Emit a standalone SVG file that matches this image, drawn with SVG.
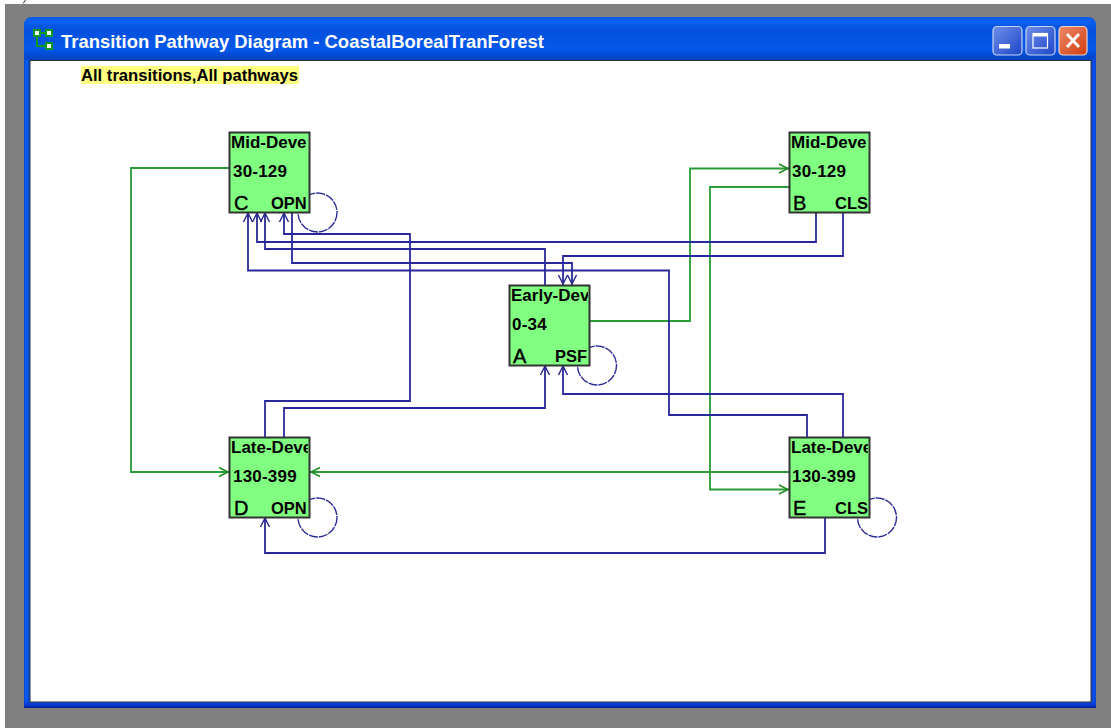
<svg xmlns="http://www.w3.org/2000/svg" width="1111" height="728" viewBox="0 0 1111 728">
<style>
.t{font-family:"Liberation Sans",Arial,sans-serif;font-weight:bold;fill:#000}
.n{font-size:17px}
.m{font-size:17px;letter-spacing:.2px}
.b{font-size:16.500px}
.l{font-size:20px;font-weight:normal;stroke:#000;stroke-width:.4}
.box{fill:#80ff80;stroke:#333;stroke-width:2}
.nv,.gr{fill:none;stroke-width:1.800}
.nv{stroke:#28289a}
.gr{stroke:#289a38}
.lp{fill:none;stroke:#2b2b98;stroke-width:1.400;stroke-dasharray:9 1}
.ha,.hg{fill:none;stroke-width:1.400}
.ha{stroke:#25258f}
.hg{stroke:#1d8a1d}
</style>
<defs>
<linearGradient id="tb" x1="0" y1="0" x2="0" y2="1">
<stop offset="0" stop-color="#0a5ce8"/><stop offset=".12" stop-color="#0a60f0"/><stop offset=".3" stop-color="#0550de"/><stop offset=".75" stop-color="#0558ea"/><stop offset="1" stop-color="#0340c0"/>
</linearGradient>
<linearGradient id="fb" x1="0" y1="0" x2="0" y2="1"><stop offset="0" stop-color="#0a48e0"/><stop offset=".5" stop-color="#0638d0"/><stop offset="1" stop-color="#081c88"/></linearGradient>
<linearGradient id="bl" x1="0" y1="0" x2="1" y2="1"><stop offset="0" stop-color="#6f8fe8"/><stop offset="1" stop-color="#1c45c8"/></linearGradient>
<linearGradient id="rd" x1="0" y1="0" x2="1" y2="1"><stop offset="0" stop-color="#ec8a68"/><stop offset="1" stop-color="#d23c10"/></linearGradient>
<clipPath id="cC"><rect x="230" y="133" width="78.500" height="78"/></clipPath>
<clipPath id="cB"><rect x="790" y="133" width="78" height="78"/></clipPath>
<clipPath id="cA"><rect x="510" y="286" width="78" height="78"/></clipPath>
<clipPath id="cD"><rect x="230" y="438" width="78" height="78"/></clipPath>
<clipPath id="cE"><rect x="790" y="438" width="78" height="78"/></clipPath>
</defs>
<rect x="5" y="4" width="1106" height="724" fill="#808080"/>
<path d="M23 3.500 L25.500 0" fill="none" stroke="#333" stroke-width="1"/>
<g id="window">
<path d="M24 708V26Q24 17 33 17H1086Q1096 17 1096 26V708Z" fill="#0648d8"/>
<rect x="24" y="17" width="1072" height="43" rx="8" fill="url(#tb)"/>
<rect x="24" y="702" width="1072" height="6" fill="url(#fb)"/>
<rect x="25" y="60" width="3" height="642" fill="#0a5ae8"/>
<rect x="1092" y="60" width="3" height="642" fill="#0a4ae0"/>
<rect x="30" y="60.500" width="1061" height="641.500" fill="#fff" stroke="#333" stroke-width="1"/>
<g id="icon" fill="#fff" stroke="#0d9a20" stroke-width="2">
<rect x="34" y="30" width="6" height="6"/><rect x="46" y="30" width="6" height="6"/><rect x="46" y="43" width="6" height="6"/>
<path d="M37 36V46H46M40 33H46" fill="none"/>
</g>
<text x="61" y="48" class="t" style="font-size:18.500px;fill:#fff" textLength="483" lengthAdjust="spacingAndGlyphs">Transition Pathway Diagram - CoastalBorealTranForest</text>
<g id="buttons">
<rect x="993" y="26.500" width="29" height="28.500" rx="4" fill="url(#bl)" stroke="#c8d4f4" stroke-width="1.200"/>
<rect x="999" y="44" width="11" height="4.500" fill="#fff"/>
<rect x="1026" y="26.500" width="29" height="28.500" rx="4" fill="url(#bl)" stroke="#c8d4f4" stroke-width="1.200"/>
<rect x="1033" y="33.500" width="14.500" height="14.500" fill="none" stroke="#fff" stroke-width="1.200"/>
<rect x="1033" y="33" width="14.500" height="3.500" fill="#fff"/>
<rect x="1059" y="26.500" width="28" height="28.500" rx="4" fill="url(#rd)" stroke="#e8d8d0" stroke-width="1.200"/>
<path d="M1067 34L1079 47M1079 34L1067 47" stroke="#fff" stroke-width="2.800" fill="none"/>
</g>
</g>
<g id="caption">
<rect x="81" y="66" width="218" height="18" fill="#ffff80"/>
<text x="81" y="81" class="t" style="font-size:16px" textLength="217" lengthAdjust="spacingAndGlyphs">All transitions,All pathways</text>
</g>
<g id="connectors">
<g class="lp">
<circle cx="317.500" cy="212.500" r="19.500"/>
<circle cx="597" cy="365.500" r="19.500"/>
<circle cx="317.500" cy="517.500" r="19.500"/>
<circle cx="877" cy="517.500" r="19.500"/>
</g>
<path class="gr" d="M229 168H131V472H229"/>
<path class="gr" d="M589 321H690V168.500H789"/>
<path class="gr" d="M789 187H710V489.500H789"/>
<path class="gr" d="M789 472H309"/>
<path class="nv" d="M816 212V242H257V212"/>
<path class="nv" d="M843 212V256H563V285"/>
<path class="nv" d="M545 285V249H265V212"/>
<path class="nv" d="M292 212V263H572V285"/>
<path class="nv" d="M807 437V415H669V270.500H248V212"/>
<path class="nv" d="M265 437V401H410V234H284V212"/>
<path class="nv" d="M284 437V408H545V365"/>
<path class="nv" d="M843 437V394H563V365"/>
<path class="nv" d="M825 517V553H265V517"/>
<g class="ha">
<path d="M243.500 222L248 213L252.500 222"/>
<path d="M252.500 222L257 213L261.500 222"/>
<path d="M260.500 222L265 213L269.500 222"/>
<path d="M279.500 222L284 213L288.500 222"/>
<path d="M558.500 275L563 284L567.500 275"/>
<path d="M567.500 275L572 284L576.500 275"/>
<path d="M540.500 375L545 366L549.500 375"/>
<path d="M558.500 375L563 366L567.500 375"/>
<path d="M260.500 527L265 518L269.500 527"/>
</g>
<g class="hg">
<path d="M219 467.500L228 472L219 476.500"/>
<path d="M779 164L788 168.500L779 173"/>
<path d="M779 485L788 489.500L779 494"/>
<path d="M320 467.500L311 472L320 476.500"/>
</g>
</g>
<g id="node-C"><rect class="box" x="229.500" y="132.500" width="80" height="80"/><g clip-path="url(#cC)"><text class="t n" x="231" y="148">Mid-Deve</text><text class="t m" x="233" y="177">30-129</text><text class="t l" x="234" y="210">C</text><text class="t b" x="271" y="209">OPN</text></g></g>
<g id="node-B"><rect class="box" x="789.500" y="132.500" width="80" height="80"/><g clip-path="url(#cB)"><text class="t n" x="791" y="148">Mid-Deve</text><text class="t m" x="792" y="177">30-129</text><text class="t l" x="793" y="210">B</text><text class="t b" x="835" y="209">CLS</text></g></g>
<g id="node-A"><rect class="box" x="509.500" y="285.500" width="80" height="80"/><g clip-path="url(#cA)"><text class="t n" x="511" y="301">Early-Deve</text><text class="t m" x="512" y="330">0-34</text><text class="t l" x="513" y="363">A</text><text class="t b" x="555" y="362">PSF</text></g></g>
<g id="node-D"><rect class="box" x="229.500" y="437.500" width="80" height="80"/><g clip-path="url(#cD)"><text class="t n" x="231" y="453">Late-Deve</text><text class="t m" x="233" y="482">130-399</text><text class="t l" x="234" y="515">D</text><text class="t b" x="271" y="514">OPN</text></g></g>
<g id="node-E"><rect class="box" x="789.500" y="437.500" width="80" height="80"/><g clip-path="url(#cE)"><text class="t n" x="791" y="453">Late-Deve</text><text class="t m" x="792" y="482">130-399</text><text class="t l" x="793" y="515">E</text><text class="t b" x="835" y="514">CLS</text></g></g>
</svg>
